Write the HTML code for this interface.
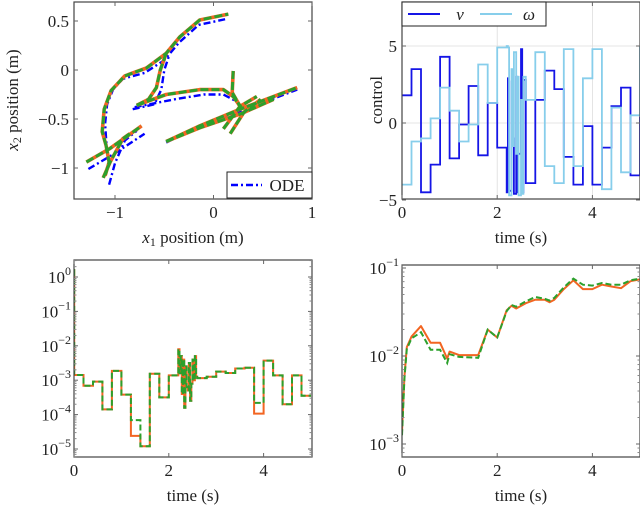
<!DOCTYPE html>
<html><head><meta charset="utf-8"><style>
html,body{margin:0;padding:0;background:#fff;}
svg{display:block;font-family:"Liberation Serif",serif;}
</style></head><body>
<svg id="fig" width="640" height="507" viewBox="0 0 640 507" xmlns="http://www.w3.org/2000/svg"></svg>
<script>
// ---------- data ----------
const trajCurves = [
 [[-1.09,-0.77],[-1.13,-0.63],[-1.11,-0.40],[-1.04,-0.21],[-0.90,-0.06],[-0.68,0.02],[-0.48,0.17],[-0.34,0.34],[-0.14,0.51],[0.15,0.57]],
 [[-0.78,-0.36],[-0.66,-0.30],[-0.58,-0.18],[-0.54,0.0],[-0.48,0.17]],
 [[-0.78,-0.36],[-0.48,-0.25],[-0.14,-0.20],[0.10,-0.20],[0.20,-0.27],[0.27,-0.37]],
 [[0.20,-0.01],[0.19,-0.23],[0.27,-0.37]],
 [[-0.48,-0.73],[-0.14,-0.57],[0.27,-0.40],[0.85,-0.18]],
 [[-0.48,-0.73],[-0.14,-0.59],[0.27,-0.45],[0.61,-0.30]],
 [[0.10,-0.60],[0.27,-0.37],[0.44,-0.27]],
 [[0.17,-0.65],[0.31,-0.43],[0.48,-0.30]],
 [[-1.29,-0.94],[-1.05,-0.80],[-0.73,-0.57]],
 [[-1.12,-1.10],[-1.05,-0.94],[-0.92,-0.70],[-0.85,-0.65]],
 [[-1.09,-0.77],[-1.06,-0.94],[-1.10,-1.08]]
];
const odeCurves = [
 [[-1.08,-0.85],[-1.10,-0.55],[-1.08,-0.35],[-1.02,-0.20],[-0.92,-0.09],[-0.70,-0.03],[-0.50,0.10],[-0.35,0.28],[-0.15,0.46],[0.13,0.52]],
 [[-0.82,-0.40],[-0.60,-0.35],[-0.53,-0.20],[-0.50,0.0],[-0.45,0.15]],
 [[-0.80,-0.38],[-0.40,-0.30],[-0.10,-0.25],[0.10,-0.25],[0.25,-0.33]],
 [[-0.48,-0.74],[-0.10,-0.55],[0.27,-0.42],[0.85,-0.20]],
 [[-1.27,-1.01],[-1.00,-0.85],[-0.70,-0.65]],
 [[-1.06,-1.17],[-1.00,-0.95],[-0.90,-0.72],[-0.78,-0.62]]
];
const segTimes = [0,0.2,0.4,0.6,0.8,1.0,1.2,1.4,1.6,1.8,2.0,2.2,2.225,2.25,2.3,2.325,2.35,2.4,2.425,2.45,2.5,2.525,2.55,2.6,2.8,3.0,3.2,3.4,3.6,3.8,4.0,4.2,4.4,4.6,4.8,5.0];
const vValues = [1.8,3.5,-4.5,-2.7,4.3,-2.3,-0.1,2.4,-2.1,1.3,-1.6,-4.5,2.9,-4.4,2.7,-1.0,-4.6,3.0,-4.5,-2.0,4.8,-4.5,2.8,-3.9,1.5,3.4,2.2,-2.2,-4.0,-0.2,-4.0,-1.6,1.1,2.3,-3.4,0.4];
const wValues = [-4.0,-1.2,-1.0,0.3,2.3,0.8,-1.2,-0.1,3.8,1.3,4.9,5.0,4.9,-4.7,3.5,-1.5,4.6,-2.0,3.0,-4.7,1.5,-4.6,3.0,1.5,4.6,-2.8,-3.9,4.8,-2.8,2.9,4.8,-4.3,1.0,-3.2,0.5,5.0];
const errTimes = [0,0.005,0.2,0.4,0.6,0.8,1.0,1.2,1.4,1.6,1.8,2.0,2.2,2.225,2.25,2.275,2.3,2.325,2.35,2.375,2.4,2.425,2.45,2.475,2.5,2.525,2.55,2.575,2.6,2.8,3.0,3.2,3.4,3.6,3.8,4.0,4.2,4.4,4.6,4.8,5.0];
const errA = [0.2,-2.85,-3.16,-3.04,-3.85,-2.73,-3.42,-4.62,-4.92,-2.81,-3.5,-2.86,-2.1,-2.8,-2.3,-3.4,-2.4,-3.8,-2.6,-3.2,-3.3,-2.5,-3.6,-3.1,-2.4,-3.0,-2.3,-2.9,-2.94,-2.9,-2.75,-2.79,-2.66,-2.64,-3.97,-2.43,-2.86,-3.7,-2.86,-3.45,-3.45];
const errB = [0.2,-2.85,-3.16,-3.04,-3.85,-2.73,-3.42,-4.16,-4.92,-2.81,-3.5,-2.86,-2.1,-2.8,-2.3,-3.4,-2.4,-3.8,-2.6,-3.2,-3.3,-2.5,-3.6,-3.1,-2.4,-3.0,-2.3,-2.9,-2.94,-2.9,-2.75,-2.79,-2.66,-2.64,-3.66,-2.43,-2.86,-3.7,-2.86,-3.45,-3.45];
const cumTimes = [0,0.05,0.1,0.2,0.4,0.6,0.8,0.95,1.0,1.2,1.6,1.8,2.0,2.2,2.3,2.4,2.6,2.8,3.0,3.1,3.2,3.4,3.6,3.8,4.0,4.2,4.4,4.6,4.8,5.0];
const cumA = [-2.86,-2.24,-1.90,-1.78,-1.66,-1.85,-1.85,-2.03,-1.95,-1.99,-1.99,-1.70,-1.79,-1.48,-1.43,-1.46,-1.40,-1.36,-1.36,-1.39,-1.36,-1.24,-1.14,-1.24,-1.24,-1.19,-1.21,-1.23,-1.15,-1.13];
const cumB = [-2.90,-2.26,-1.92,-1.80,-1.73,-1.93,-1.93,-2.08,-1.98,-2.01,-2.02,-1.70,-1.79,-1.49,-1.42,-1.44,-1.38,-1.33,-1.35,-1.37,-1.34,-1.22,-1.12,-1.19,-1.20,-1.17,-1.19,-1.19,-1.14,-1.12];

// ---------- helpers ----------
const NS="http://www.w3.org/2000/svg";
const FS=17;
const fig=document.getElementById('fig');
function el(tag,attrs,parent){const e=document.createElementNS(NS,tag);for(const k in attrs)e.setAttribute(k,attrs[k]);(parent||fig).appendChild(e);return e;}
function lin(d0,d1,p0,p1){return v=>p0+(v-d0)*(p1-p0)/(d1-d0);}
function pathFrom(pts,sx,sy){return pts.map((p,i)=>(i?'L':'M')+sx(p[0]).toFixed(1)+' '+sy(p[1]).toFixed(1)).join(' ');}
function stepPts(times,vals){const pts=[];for(let i=0;i<vals.length;i++){const t0=times[i];const t1=i+1<times.length?times[i+1]:times[i];pts.push([t0,vals[i]]);pts.push([t1,vals[i]]);}return pts;}
function frame(x0,y0,x1,y1,name){const r=el('rect',{x:x0,y:y0,width:x1-x0,height:y1-y0,fill:'none',stroke:'#444','stroke-width':1.2});}
function label(x,y,txt,name,opts){const t=el('text',Object.assign({x:x,y:y,'font-size':FS,fill:'#222','text-anchor':'middle'},opts||{}));t.textContent=txt;return t;}
function tickX(sx,vals,y0,y1,name,lblY,txts){vals.forEach((v,i)=>{const x=sx(v);el('line',{x1:x,x2:x,y1:y1,y2:y1-4,stroke:'#666'});el('line',{x1:x,x2:x,y1:y0,y2:y0+4,stroke:'#666'});label(x,lblY,txts?txts[i]:String(v),name);});}
function tickYLin(sy,vals,x0,x1,name,txts){vals.forEach((v,i)=>{const y=sy(v);el('line',{x1:x0,x2:x0+4,y1:y,y2:y,stroke:'#666'});el('line',{x1:x1,x2:x1-4,y1:y,y2:y,stroke:'#666'});label(x0-5,y+6,txts[i],name,{'text-anchor':'end'});});}
function tickYLog(sy,exps,x0,x1,name,dmin,dmax){
 for(let e=Math.floor(dmin);e<=Math.ceil(dmax);e++){for(let m=2;m<=9;m++){const lv=e+Math.log10(m);if(lv<dmin||lv>dmax)continue;const y=sy(lv);el('line',{x1:x0,x2:x0+2.5,y1:y,y2:y,stroke:'#888'});el('line',{x1:x1,x2:x1-2.5,y1:y,y2:y,stroke:'#888'});}}
 exps.forEach(e=>{const y=sy(e);el('line',{x1:x0,x2:x0+4,y1:y,y2:y,stroke:'#666'});el('line',{x1:x1,x2:x1-4,y1:y,y2:y,stroke:'#666'});
  const t=el('text',{x:x0-3,y:y+6,'font-size':FS,fill:'#222','text-anchor':'end'});
  const a=el('tspan',{},t);a.textContent='10';const b=el('tspan',{'font-size':12,dy:-8},t);b.textContent=(e<0?'\u2212':'')+Math.abs(e);});}
const ORANGE='#f26522',GREEN='#2ca02c';

// ---------- panel 1 ----------
(function(){
 const X0=74,X1=312,Y0=2,Y1=199;
 const sx=lin(-1,1,115,312), sy=lin(0,0.5,70,21);
 const cp=el('clipPath',{id:'c1'});el('rect',{x:X0,y:Y0,width:X1-X0,height:Y1-Y0},cp);
 const g=el('g',{'clip-path':'url(#c1)'});
 odeCurves.forEach(c=>{const p=el('path',{d:pathFrom(c,sx,sy),fill:'none',stroke:'#0000ff','stroke-width':2.4,'stroke-dasharray':'7 3 2 3'},g);});
 trajCurves.forEach(c=>{const p=el('path',{d:pathFrom(c,sx,sy),fill:'none',stroke:ORANGE,'stroke-width':3.6,'stroke-linejoin':'round'},g);});
 trajCurves.forEach(c=>{const p=el('path',{d:pathFrom(c,sx,sy),fill:'none',stroke:GREEN,'stroke-width':3,'stroke-dasharray':'8 3'},g);});
 frame(X0,Y0,X1,Y1,'trajectory-plot-frame');
 tickX(sx,[-1,0,1],Y0,Y1,'x-tick-label',218,['\u22121','0','1']);
 tickYLin(sy,[0.5,0,-0.5,-1],X0,X1,'y-tick-label',['0.5','0','\u22120.5','\u22121']);
 const xl=label(193,243,'','x-axis-title');const a=el('tspan',{'font-style':'italic'},xl);a.textContent='x';const s=el('tspan',{'font-size':12,dy:3},xl);s.textContent='1';const r=el('tspan',{dy:-3},xl);r.textContent=' position (m)';
 const yl=label(0,0,'','y-axis-title',{transform:'translate(18,100) rotate(-90)'});const a2=el('tspan',{'font-style':'italic'},yl);a2.textContent='x';const s2=el('tspan',{'font-size':12,dy:3},yl);s2.textContent='2';const r2=el('tspan',{dy:-3},yl);r2.textContent=' position (m)';
 const lg=el('g',{});
 el('rect',{x:227,y:172,width:85,height:26,fill:'#fff',stroke:'#222','stroke-width':1},lg);
 el('line',{x1:231,x2:262,y1:185,y2:185,stroke:'#0000ff','stroke-width':2.4,'stroke-dasharray':'7 3 2 3'},lg);
 lg.appendChild(label(287,191,'ODE','legend-entry-ode'));
})();

// ---------- panel 2 ----------
(function(){
 const X0=402,X1=640,Y0=2,Y1=199;
 const sx=lin(0,5,402,640), sy=lin(0,5,123,46);
 const cp=el('clipPath',{id:'c2'});el('rect',{x:X0,y:Y0,width:X1-X0,height:Y1-Y0},cp);
 const g=el('g',{'clip-path':'url(#c2)'});
 [0,2,4].forEach(v=>el('line',{x1:sx(v),x2:sx(v),y1:Y0,y2:Y1,stroke:'#ddd','stroke-width':0.8},g));
 [-5,0,5].forEach(v=>el('line',{x1:X0,x2:X1,y1:sy(v),y2:sy(v),stroke:'#ddd','stroke-width':0.8},g));
 const pv=el('path',{d:pathFrom(stepPts(segTimes,vValues),sx,sy),fill:'none',stroke:'#1515e6','stroke-width':1.8},g);
 const pw=el('path',{d:pathFrom(stepPts(segTimes,wValues),sx,sy),fill:'none',stroke:'#87ceeb','stroke-width':1.8},g);
 frame(X0,Y0,X1,Y1,'control-plot-frame');
 tickX(sx,[0,2,4],Y0,Y1,'x-tick-label',218);
 tickYLin(sy,[5,0,-5],X0,X1,'y-tick-label',['5','0','\u22125']);
 label(521,243,'time (s)','x-axis-title');
 label(0,0,'control','y-axis-title',{transform:'translate(382,100) rotate(-90)'});
 const lg=el('g',{});
 el('rect',{x:402,y:2,width:144,height:24,fill:'#fff',stroke:'#222','stroke-width':1},lg);
 el('line',{x1:408,x2:440,y1:14,y2:14,stroke:'#1515e6','stroke-width':2},lg);
 lg.appendChild(label(460,20,'v','legend-entry-v',{'font-style':'italic'}));
 el('line',{x1:480,x2:512,y1:14,y2:14,stroke:'#87ceeb','stroke-width':2},lg);
 lg.appendChild(label(529,20,'\u03c9','legend-entry-omega',{'font-style':'italic'}));
})();

// ---------- panel 3 ----------
(function(){
 const X0=74,X1=312,Y0=260,Y1=457;
 const sx=lin(0,5,74,311), sy=lin(0,-5,277,449);
 const cp=el('clipPath',{id:'c3'});el('rect',{x:X0,y:Y0,width:X1-X0,height:Y1-Y0},cp);
 const g=el('g',{'clip-path':'url(#c3)'});
 const pa=el('path',{d:pathFrom(stepPts(errTimes,errA),sx,sy),fill:'none',stroke:ORANGE,'stroke-width':2},g);
 const pb=el('path',{d:pathFrom(stepPts(errTimes,errB),sx,sy),fill:'none',stroke:GREEN,'stroke-width':2,'stroke-dasharray':'6 3'},g);
 frame(X0,Y0,X1,Y1,'error-plot-frame');
 tickX(sx,[0,2,4],Y0,Y1,'x-tick-label',476);
 tickYLog(sy,[0,-1,-2,-3,-4,-5],X0,X1,'y-tick-label',-5.23,0.5);
 label(193,501,'time (s)','x-axis-title');
})();

// ---------- panel 4 ----------
(function(){
 const X0=402,X1=640,Y0=265,Y1=457;
 const sx=lin(0,5,402,640), sy=lin(-1,-3,268,444);
 const cp=el('clipPath',{id:'c4'});el('rect',{x:X0,y:Y0,width:X1-X0,height:Y1-Y0},cp);
 const g=el('g',{'clip-path':'url(#c4)'});
 const pts=a=>cumTimes.map((t,i)=>[t,a[i]]);
 const pa=el('path',{d:pathFrom(pts(cumA),sx,sy),fill:'none',stroke:ORANGE,'stroke-width':2,'stroke-linejoin':'round'},g);
 const pb=el('path',{d:pathFrom(pts(cumB),sx,sy),fill:'none',stroke:GREEN,'stroke-width':2,'stroke-dasharray':'6 3'},g);
 frame(X0,Y0,X1,Y1,'cumulative-plot-frame');
 tickX(sx,[0,2,4],Y0,Y1,'x-tick-label',476);
 tickYLog(sy,[-1,-2,-3],X0,X1,'y-tick-label',-3.15,-0.97);
 label(521,501,'time (s)','x-axis-title');
})();
</script>
</body></html>
